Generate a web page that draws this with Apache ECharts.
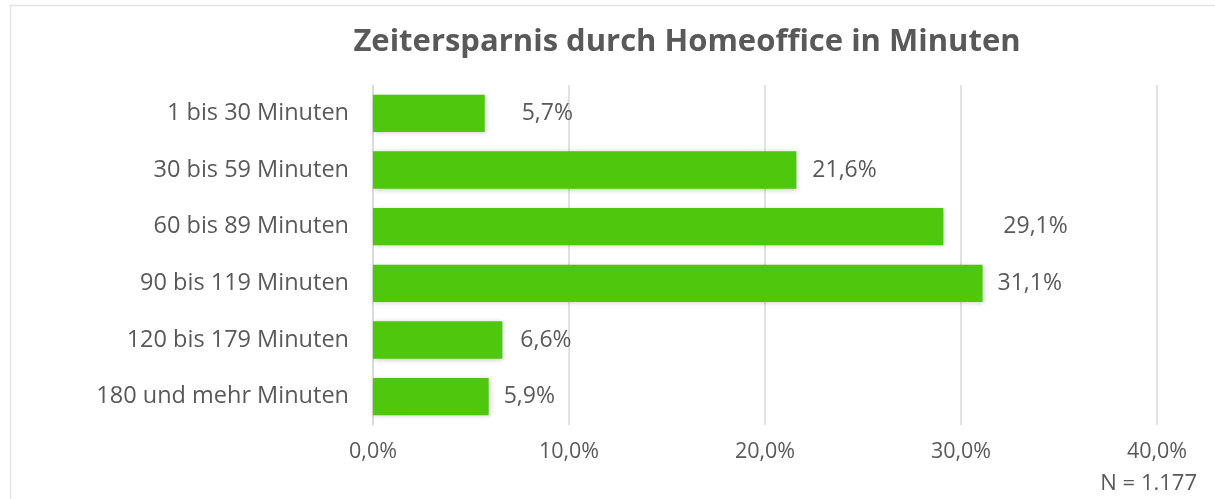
<!DOCTYPE html>
<html>
<head>
<meta charset="utf-8">
<script src="https://cdn.jsdelivr.net/npm/echarts@6/dist/echarts.min.js"></script>
<style>
  html, body { margin: 0; padding: 0; background: #fff; }
  #chart { width: 1215px; height: 499px; }
</style>
</head>
<body>
<div id="chart"></div>
<script>
// Daten
const categories = ['1 bis 30 Minuten', '30 bis 59 Minuten', '60 bis 89 Minuten', '90 bis 119 Minuten', '120 bis 179 Minuten', '180 und mehr Minuten']
const shares = [5.7, 21.6, 29.1, 31.1, 6.6, 5.9]
const xTicks = [0, 10, 20, 30, 40]

// Abstand der Beschriftung zum Balken (wie im Original, unregelmäßig)
const labelGap = [37, 16, 60, 15, 18, 15]

const fmt = v => v.toFixed(1).replace('.', ',') + '%'
const font = '"Open Sans", "Noto Sans", sans-serif'
const grey = '#595959'

const chart = echarts.init(document.getElementById('chart'))

const option = {
  animation: false,
  backgroundColor: '#fff',
  textStyle: { fontFamily: font },
  title: {
    text: 'Zeitersparnis durch Homeoffice in Minuten',
    left: 682,
    top: 22,
    textAlign: 'center',
    textStyle: { fontFamily: font, fontSize: 31, fontWeight: 'bold', color: grey }
  },
  graphic: [
    {
      type: 'rect',
      shape: { x: 10.5, y: 5.5, width: 1215, height: 520 },
      style: { fill: 'none', stroke: '#e3e3e3', lineWidth: 1.5 },
      silent: true
    },
    {
      type: 'text',
      right: 18,
      top: 473,
      style: { text: 'N = 1.177', fontFamily: font, fontSize: 22, fill: grey }
    }
  ],
  grid: { left: 373, right: 58, top: 85, bottom: 74 },
  xAxis: {
    type: 'value',
    min: xTicks[0],
    max: xTicks[xTicks.length - 1],
    interval: 10,
    axisLine: { show: false },
    axisTick: { show: false },
    axisLabel: { formatter: v => fmt(v), fontSize: 21.5, color: grey, margin: 16 },
    splitLine: { lineStyle: { color: '#d9d9d9', width: 1.5 } }
  },
  yAxis: {
    type: 'category',
    data: categories,
    inverse: true,
    axisLine: { lineStyle: { color: '#d9d9d9', width: 1.5 } },
    axisTick: { show: false },
    axisLabel: { fontSize: 23.5, color: grey, margin: 24 }
  },
  series: [
    {
      type: 'bar',
      data: shares.map((v, i) => ({ value: v, label: { distance: labelGap[i] } })),
      barCategoryGap: '34%',
      itemStyle: {
        color: '#4ec70c',
        shadowBlur: 5,
        shadowColor: 'rgba(0,0,0,0.22)',
        shadowOffsetX: 1,
        shadowOffsetY: 1
      },
      label: {
        show: true,
        position: 'right',
        formatter: p => fmt(p.value),
        fontSize: 23,
        color: grey
      }
    }
  ]
}

chart.setOption(option)
</script>
</body>
</html>
